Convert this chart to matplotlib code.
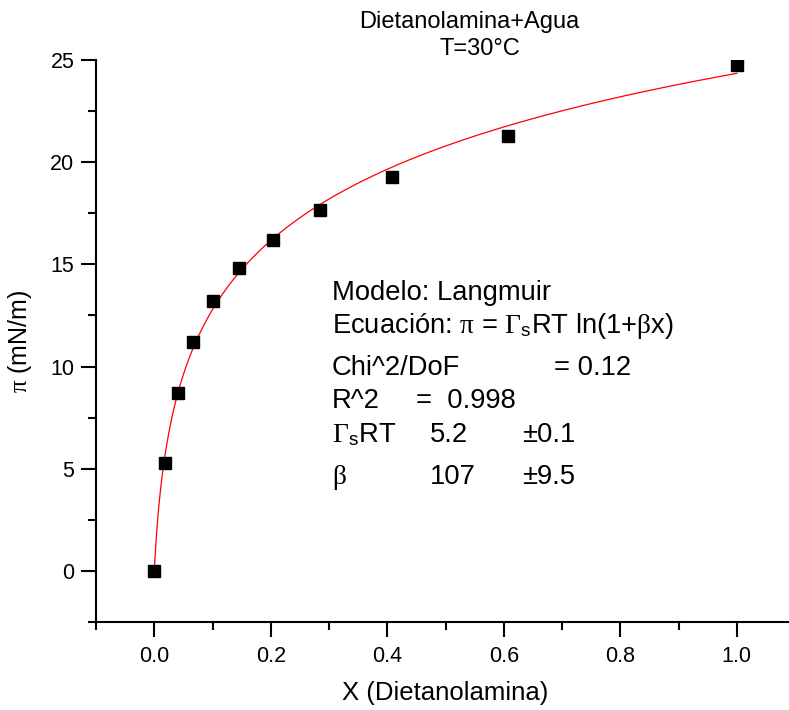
import numpy as np
import matplotlib
matplotlib.use("Agg")
import matplotlib.pyplot as plt

plt.rcParams['font.family'] = ['Liberation Sans', 'DejaVu Sans']
plt.rcParams['mathtext.fontset'] = 'custom'
plt.rcParams['mathtext.rm'] = 'Liberation Serif'
plt.rcParams['mathtext.it'] = 'Liberation Serif'
plt.rcParams['mathtext.sf'] = 'Liberation Sans'

# data
x_dea = [0.0, 0.019, 0.041, 0.067, 0.101, 0.146, 0.204, 0.284, 0.408, 0.608, 1.0]
pi_vals = [0.0, 5.3, 8.7, 11.2, 13.2, 14.8, 16.2, 17.65, 19.25, 21.3, 24.75]

# fit parameters shown on the chart
gamma_rt = 5.2
beta = 107

x_ticks = [0.0, 0.2, 0.4, 0.6, 0.8, 1.0]
x_ticklabels = ["0.0", "0.2", "0.4", "0.6", "0.8", "1.0"]
y_ticks = [0, 5, 10, 15, 20, 25]

fig = plt.figure(figsize=(7.89, 7.10), dpi=100)
ax = fig.add_axes([0.1217, 0.124, 0.886, 0.7915])

xfit = np.linspace(0, 1, 400)
ax.plot(xfit, gamma_rt * np.log(1 + beta * xfit), color='red', lw=0.9, zorder=2)
ax.plot(x_dea, pi_vals, 's', color='black', ms=8.5, zorder=3)

ax.set_xlim(-0.1, 1.1)
ax.set_ylim(-2.5, 25)
ax.spines['top'].set_visible(False)
ax.spines['right'].set_visible(False)
ax.spines['left'].set_linewidth(1.5)
ax.spines['bottom'].set_linewidth(1.5)

ax.set_xticks(x_ticks)
ax.set_xticklabels(x_ticklabels)
ax.set_xticks(np.arange(-0.1, 1.11, 0.2), minor=True)
ax.set_yticks(y_ticks)
ax.set_yticks(np.arange(-2.5, 25, 5), minor=True)
ax.tick_params(which='major', direction='out', length=10.5, width=1.5, labelsize=15.5, pad=5)
ax.tick_params(which='minor', direction='out', length=5.5, width=1.5)
ax.tick_params(axis='x', which='major', pad=7)

ax.set_xlabel("X (Dietanolamina)", fontsize=18.5, labelpad=10)
ax.set_ylabel("$\\mathrm{\\pi}$ (mN/m)", fontsize=18, labelpad=12)

def px(x, y):
    return x / 789, 1 - y / 710

fig.text(*px(469, 22), "Dietanolamina+Agua", ha='center', va='center', fontsize=17)
fig.text(*px(480, 49), "T=30°C", ha='center', va='center', fontsize=17)

tx = dict(fontsize=19.7, va='center', ha='left')
g_s = "$\\mathrm{\\Gamma}_{\\mathsf{s}}$"
fig.text(*px(332, 293), "Modelo: Langmuir", **tx)
fig.text(*px(332, 326), "Ecuación: $\\mathrm{\\pi}$ = " + g_s + "RT ln(1+$\\mathrm{\\beta}$x)", **tx)
fig.text(*px(332, 368), "Chi^2/DoF", **tx)
fig.text(*px(554, 368), "= 0.12", **tx)
fig.text(*px(332, 401), "R^2", **tx)
fig.text(*px(416, 401), "=  0.998", **tx)
fig.text(*px(332, 435), g_s + "RT", **tx)
fig.text(*px(430, 435), "5.2", **tx)
fig.text(*px(522, 435), "±0.1", **tx)
fig.text(*px(332, 477), "$\\mathrm{\\beta}$", **tx)
fig.text(*px(430, 477), "107", **tx)
fig.text(*px(522, 477), "±9.5", **tx)

fig.savefig("out.png", dpi=100)
